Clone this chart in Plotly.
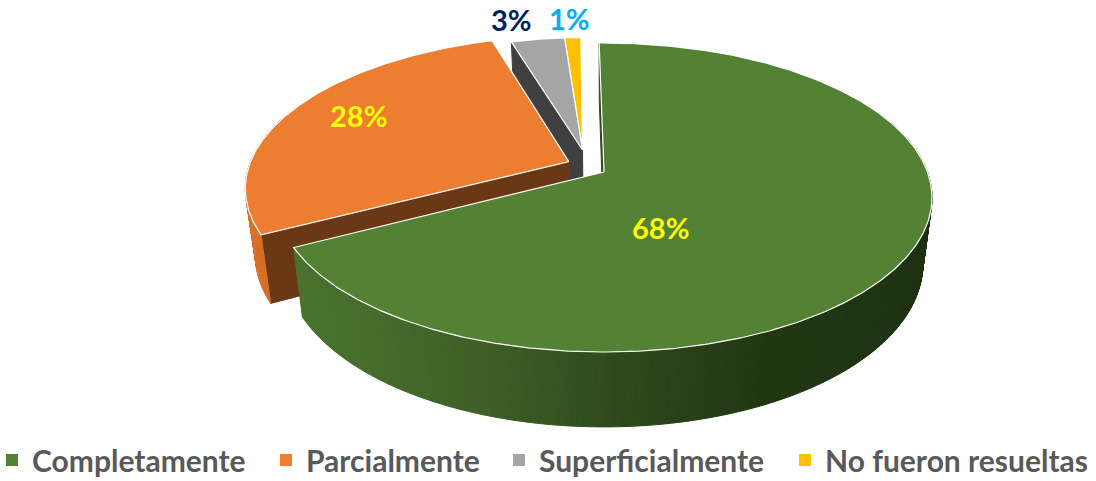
import numpy as np
import plotly.graph_objects as go

CATEGORIES = ["Completamente", "Parcialmente", "Superficialmente", "No fueron resueltas"]
VALUES = [67.6, 27.9, 3.45, 1.05]

TOP_COLORS = ["#548235", "#ED7D31", "#A5A5A5", "#FFC000"]
FACE_COLORS = ["#2E4A1C", "#6B3815", "#404040", "#7F6000"]
LABEL_COLORS = ["#FFFF00", "#FFFF00", "#002060", "#00B0F0"]
LABEL_POS = [(660, 227), (358, 115), (511, 19), (569, 18)]
LEGEND_TEXT_X = [33, 307, 540, 826]
OFFSETS = [(0, 0), (-0.11, 0.07), (-0.068, 0.15), (-0.068, 0.15)]
RADII = [1.0, 0.995, 0.9, 0.9]
WALL_STOPS = {
    0: [(290, (76, 116, 48)), (480, (62, 96, 38)), (620, (46, 74, 28)), (760, (34, 56, 20)), (935, (30, 50, 18))],
    1: [(240, (222, 116, 44)), (270, (205, 108, 40))],
}
X0, Y0, A, B, K = 604, 172, 323.5, 150.3, 0.165
START = -1.0


def project(u, v):
    w = 1 + K * v
    return X0 + A * u / w, Y0 - B * v / w


def drop(x, y):
    return X0 + (x - X0) * 0.972, y + (y - Y0) * 0.055 + 65


def wall_color(i, x):
    xs = [s[0] for s in WALL_STOPS[i]]
    rgb = [np.interp(x, xs, [s[1][c] for s in WALL_STOPS[i]]) for c in range(3)]
    return "rgb(%d,%d,%d)" % tuple(rgb)


def poly(x, y, color, line=None, width=1):
    return go.Scatter(x=list(x) + [x[0]], y=list(y) + [y[0]], mode="lines", fill="toself",
                      fillcolor=color, line=dict(color=line or color, width=width),
                      hoverinfo="skip", showlegend=False)


total = sum(VALUES)
edges = START + np.concatenate([[0], np.cumsum(VALUES)]) / total * 360
fig = go.Figure()

for i in [3, 2, 1, 0]:
    a0, a1 = edges[i], edges[i + 1]
    ou, ov = OFFSETS[i]
    r = RADII[i]
    th = np.radians(np.linspace(a0, a1, max(int(a1 - a0) * 2, 6) + 1))
    ax, ay = project(ou, ov)
    ex, ey = project(ou + r * np.sin(th), ov + r * np.cos(th))
    # cut face that looks at the viewer
    if i in (0, 1, 2):
        bx, by = drop(np.array([ax, ex[0]]), np.array([ay, ey[0]]))
        fig.add_trace(poly([ax, ex[0], bx[1], bx[0]], [ay, ey[0], by[1], by[0]], FACE_COLORS[i]))
    # outer wall
    if i in WALL_STOPS:
        dx, dy = drop(ex, ey)
        for j in range(len(th) - 1):
            if np.cos(th[j]) > 0.35:
                continue
            c = wall_color(i, ex[j])
            fig.add_trace(poly([ex[j], ex[j + 1], dx[j + 1], dx[j]], [ey[j], ey[j + 1], dy[j + 1], dy[j]], c))
    # top
    fig.add_trace(poly([ax] + list(ex), [ay] + list(ey), TOP_COLORS[i], line="#FFFFFF", width=1.2))

legends = {}
for n, (name, color, tx) in enumerate(zip(CATEGORIES, TOP_COLORS, LEGEND_TEXT_X)):
    key = "legend" if n == 0 else "legend%d" % (n + 1)
    fig.add_trace(go.Scatter(x=[None], y=[None], mode="markers", name=name, legend=key,
                             marker=dict(symbol="square", size=12, color=color)))
    legends[key] = dict(orientation="h", x=(tx - 41) / 1096, y=21 / 481, xanchor="left", yanchor="middle",
                        itemwidth=30, font=dict(family="Lato", size=30, color="#595959", weight="bold"),
                        bgcolor="rgba(0,0,0,0)")

for v, pos, color in zip(VALUES, LABEL_POS, LABEL_COLORS):
    fig.add_annotation(x=pos[0], y=pos[1], text="<b>%d%%</b>" % round(v), showarrow=False,
                       font=dict(family="Lato", size=29, color=color))

fig.update_layout(
    width=1096, height=481, margin=dict(l=0, r=0, t=0, b=0, autoexpand=False),
    paper_bgcolor="white", plot_bgcolor="white",
    xaxis=dict(range=[0, 1096], visible=False, fixedrange=True),
    yaxis=dict(range=[481, 0], visible=False, fixedrange=True),
    **legends,
)
fig.write_html("out.html", config={"displayModeBar": False},
               post_script="document.body.style.margin='0';document.body.style.overflow='hidden';")
